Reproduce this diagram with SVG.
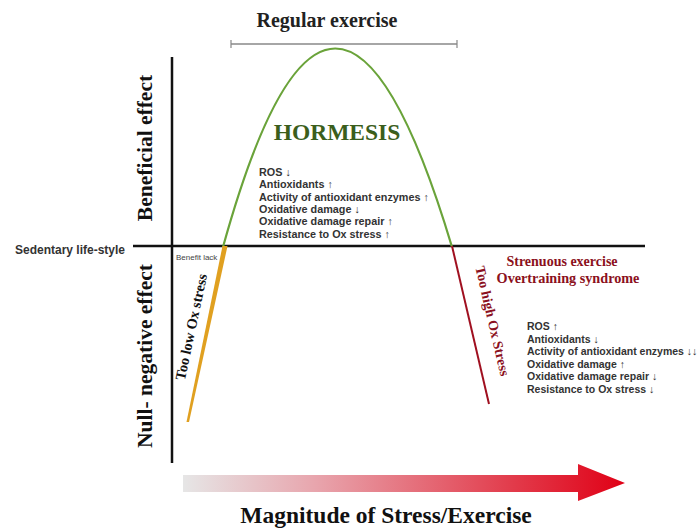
<svg xmlns="http://www.w3.org/2000/svg" width="700" height="528" viewBox="0 0 700 528">
<defs>
<linearGradient id="grad" x1="0" y1="0" x2="1" y2="0">
<stop offset="0" stop-color="#e6e6e6"/>
<stop offset="0.3" stop-color="#e8a5ad"/>
<stop offset="0.75" stop-color="#e23a4a"/>
<stop offset="1" stop-color="#e00016"/>
</linearGradient>
<style>
.serif{font-family:"Liberation Serif","Times New Roman",serif;font-weight:bold}
.sans{font-family:"Liberation Sans",Arial,sans-serif;font-weight:bold}
.list{font-family:"Liberation Sans",Arial,sans-serif;font-weight:bold;font-size:10.8px;fill:#333}
.axis{stroke:#111;stroke-width:2.5;fill:none}
</style>
</defs>
<rect width="700" height="528" fill="#fff"/>
<g id="axes">
<line class="axis" x1="172" y1="57" x2="172" y2="463"/>
<line class="axis" x1="133" y1="246" x2="645" y2="246"/>
</g>
<g id="regular-exercise">
<line x1="231" y1="44" x2="457" y2="44" stroke="#888" stroke-width="1.6"/>
<line x1="231" y1="40" x2="231" y2="48" stroke="#888" stroke-width="1.2"/>
<line x1="457" y1="40" x2="457" y2="48" stroke="#888" stroke-width="1.2"/>
<text class="serif" x="327" y="27" font-size="20" text-anchor="middle" fill="#222">Regular exercise</text>
</g>
<g id="curves">
<path d="M223,247 Q333,-150 452,247" fill="none" stroke="#6aa33a" stroke-width="2.2"/>
<path d="M222.5,246 L227.5,246 L189,422 L186.5,422 Z" fill="#e0a020"/>
<line x1="452" y1="246" x2="489" y2="404" stroke="#a01020" stroke-width="2"/>
</g>
<g id="hormesis">
<text class="serif" x="337" y="140" font-size="23.5" text-anchor="middle" fill="#3b5e1c">HORMESIS</text>
<text class="list" x="259" y="176">ROS ↓</text>
<text class="list" x="259" y="188.3">Antioxidants ↑</text>
<text class="list" x="259" y="200.6">Activity of antioxidant enzymes ↑</text>
<text class="list" x="259" y="212.9">Oxidative damage ↓</text>
<text class="list" x="259" y="225.2">Oxidative damage repair ↑</text>
<text class="list" x="259" y="237.5">Resistance to Ox stress ↑</text>
</g>
<g id="overtraining">
<text class="serif" x="562" y="266" font-size="14" text-anchor="middle" fill="#8b1020">Strenuous exercise</text>
<text class="serif" x="568" y="283" font-size="14.2" text-anchor="middle" fill="#8b1020">Overtraining syndrome</text>
<text class="list" x="527" y="330" style="font-size:10.5px">ROS ↑</text>
<text class="list" x="527" y="342.5" style="font-size:10.5px">Antioxidants ↓</text>
<text class="list" x="527" y="355" style="font-size:10.5px">Activity of antioxidant enzymes ↓↓</text>
<text class="list" x="527" y="367.5" style="font-size:10.5px">Oxidative damage ↑</text>
<text class="list" x="527" y="380" style="font-size:10.5px">Oxidative damage repair ↓</text>
<text class="list" x="527" y="392.5" style="font-size:10.5px">Resistance to Ox stress ↓</text>
<text class="serif" font-size="14" fill="#8b1020" text-anchor="middle" transform="translate(488,322) rotate(77)">Too high Ox Stress</text>
</g>
<g id="low">
<text x="176" y="260" font-size="8" fill="#444" font-family="Liberation Sans, Arial, sans-serif">Benefit lack</text>
<text class="serif" font-size="14.5" fill="#111" text-anchor="middle" transform="translate(196,328) rotate(-78)">Too low Ox stress</text>
</g>
<g id="labels">
<text class="sans" x="15" y="254" font-size="12" fill="#333">Sedentary life-style</text>
<text class="serif" font-size="21.5" fill="#111" text-anchor="middle" transform="translate(152,148) rotate(-90)">Beneficial effect</text>
<text class="serif" font-size="21.5" fill="#111" text-anchor="middle" transform="translate(152,356) rotate(-90)">Null- negative effect</text>
</g>
<g id="arrow">
<path d="M183,475 L578,475 L578,464 L625,483 L578,501 L578,492 L183,492 Z" fill="url(#grad)"/>
<text class="serif" x="386" y="523" font-size="23.5" text-anchor="middle" fill="#111">Magnitude of Stress/Exercise</text>
</g>
</svg>
